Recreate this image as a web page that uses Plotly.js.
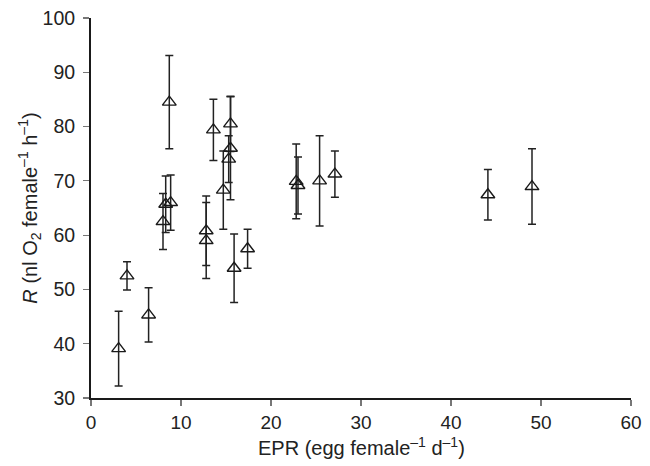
<!DOCTYPE html>
<html>
<head>
<meta charset="utf-8">
<script src="https://cdn.plot.ly/plotly-3.0.1.min.js"></script>
<style>html,body{margin:0;padding:0;background:#fff;}#chart{width:650px;height:466px;}</style>
</head>
<body>
<div id="chart"></div>
<script>
const epr = [3.07, 4.0, 6.4, 8.0, 8.3, 8.85, 8.7, 12.8, 12.8, 13.6, 14.7, 15.3, 15.5, 15.5, 15.9, 17.4, 22.8, 23.0, 25.4, 27.1, 44.1, 49.0];
const resp = [39.1, 52.5, 45.3, 62.5, 65.7, 66.0, 84.5, 60.8, 59.0, 79.4, 68.3, 74.0, 76.0, 80.5, 53.9, 57.5, 69.9, 69.15, 70.0, 71.25, 67.45, 68.95];
const respErr = [6.9, 2.6, 5.0, 5.15, 5.2, 5.1, 8.6, 6.4, 7.0, 5.65, 7.2, 4.3, 9.5, 5.1, 6.3, 3.6, 6.9, 5.25, 8.3, 4.25, 4.65, 6.95];
const xTicks = [0, 10, 20, 30, 40, 50, 60];
const yTicks = [30, 40, 50, 60, 70, 80, 90, 100];
const xTitle = 'EPR (egg female<sup>\u20131</sup> d<sup>\u20131</sup>)';
const yTitle = '<i>R</i> (nl O<sub>2</sub> female<sup>\u20131</sup> h<sup>\u20131</sup>)';

const trace = {
  x: epr,
  y: resp,
  type: 'scatter',
  mode: 'markers',
  marker: {symbol: 'triangle-up-open', size: 12, color: '#1a1a1a', line: {width: 1.4, color: '#1a1a1a'}},
  error_y: {type: 'data', array: respErr, visible: true, color: '#222', thickness: 1.5, width: 4},
  cliponaxis: false,
  hoverinfo: 'none'
};

const fontFam = 'Liberation Sans, Arial, Helvetica, sans-serif';
const layout = {
  width: 650, height: 466,
  margin: {l: 91, r: 19, t: 18, b: 68},
  paper_bgcolor: '#fff', plot_bgcolor: '#fff',
  showlegend: false,
  font: {family: fontFam, size: 19, color: '#222'},
  xaxis: {
    range: [0, 60], tickvals: xTicks, ticktext: xTicks.map(String),
    showgrid: false, zeroline: false, showline: true, linecolor: '#1a1a1a', linewidth: 2,
    ticks: 'outside', ticklen: 6, tickcolor: '#777', tickwidth: 1.2,
    tickfont: {family: fontFam, size: 19, color: '#222'}
  },
  yaxis: {
    range: [30, 100], tickvals: yTicks, ticktext: yTicks.map(String),
    showgrid: false, zeroline: false, showline: true, linecolor: '#1a1a1a', linewidth: 2,
    ticks: 'outside', ticklen: 6, tickcolor: '#777', tickwidth: 1.2, ticklabelstandoff: 4,
    tickfont: {family: fontFam, size: 19.5, color: '#222'},
    title: {text: yTitle, font: {family: fontFam, size: 20, color: '#222'}, standoff: 0}
  },
  annotations: [{
    text: xTitle, xref: 'paper', yref: 'paper', x: 0.5, y: -0.127,
    xanchor: 'center', yanchor: 'middle', showarrow: false, borderpad: 0,
    font: {family: fontFam, size: 20, color: '#222'}
  }]
};

Plotly.newPlot('chart', [trace], layout, {displayModeBar: false, staticPlot: true});
</script>
</body>
</html>
